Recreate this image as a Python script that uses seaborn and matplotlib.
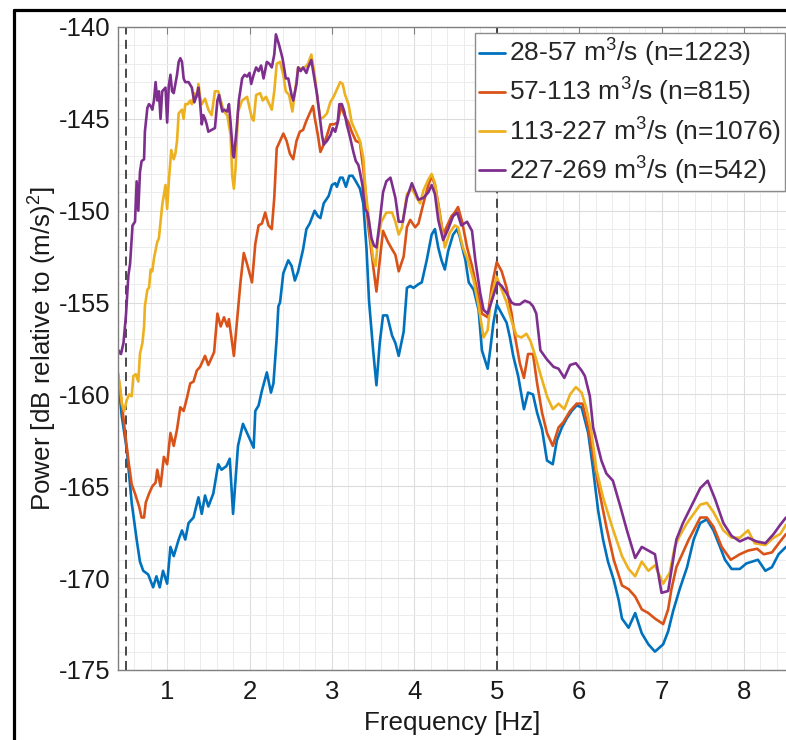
import matplotlib
matplotlib.use("Agg")
import matplotlib.pyplot as plt
import pandas as pd
import seaborn as sns
from matplotlib.lines import Line2D
from matplotlib.ticker import MultipleLocator

# Flow-rate classes and their colours
band_labels = [
    r"28-57 m$^{3}$/s (n=1223)",
    r"57-113 m$^{3}$/s (n=815)",
    r"113-227 m$^{3}$/s (n=1076)",
    r"227-269 m$^{3}$/s (n=542)",
]
band_colors = ["#0072BD", "#D95319", "#EDB120", "#7E2F8E"]

# 28-57 m3/s
freq_low = [0.40, 0.45, 0.51, 0.57, 0.63, 0.67, 0.71, 0.77, 0.83, 0.87, 0.91, 0.95, 1.00, 1.04, 1.08,
            1.14, 1.18, 1.22, 1.26, 1.32, 1.38, 1.42, 1.46, 1.50, 1.56, 1.62, 1.66, 1.72, 1.76, 1.80,
            1.86, 1.92, 1.99, 2.05, 2.07, 2.11, 2.15, 2.21, 2.26, 2.29, 2.33, 2.35, 2.37, 2.41, 2.47,
            2.51, 2.55, 2.59, 2.65, 2.69, 2.73, 2.79, 2.83, 2.86, 2.90, 2.96, 3.00, 3.04, 3.06, 3.10,
            3.13, 3.17, 3.21, 3.25, 3.29, 3.34, 3.38, 3.42, 3.45, 3.50, 3.54, 3.58, 3.62, 3.67, 3.73,
            3.77, 3.81, 3.87, 3.91, 3.95, 3.99, 4.05, 4.09, 4.15, 4.21, 4.25, 4.29, 4.33, 4.37, 4.41,
            4.47, 4.52, 4.55, 4.62, 4.66, 4.72, 4.78, 4.82, 4.89, 4.92, 4.96, 5.00, 5.06, 5.12, 5.16,
            5.20, 5.26, 5.33, 5.38, 5.44, 5.49, 5.55, 5.61, 5.68, 5.73, 5.79, 5.85, 5.91, 5.97, 6.03,
            6.11, 6.17, 6.23, 6.29, 6.35, 6.42, 6.48, 6.52, 6.60, 6.68, 6.76, 6.84, 6.92, 7.02, 7.08,
            7.14, 7.22, 7.31, 7.39, 7.47, 7.55, 7.63, 7.71, 7.77, 7.85, 7.95, 8.03, 8.17, 8.26, 8.34,
            8.42, 8.51]
power_low = [-159.0, -161.2, -163.0, -165.9, -167.9, -169.1, -169.6, -169.8, -170.5, -169.9, -170.5,
             -169.6, -170.3, -168.3, -168.8, -167.9, -167.4, -167.9, -167.0, -166.7, -165.6, -166.5,
             -165.5, -166.1, -165.4, -163.8, -164.1, -163.9, -163.5, -166.5, -162.8, -161.6, -162.3,
             -162.9, -160.9, -160.6, -159.8, -158.8, -159.9, -159.4, -156.9, -155.2, -155.0, -153.4,
             -152.7, -153.0, -153.8, -153.3, -152.1, -151.0, -150.7, -150.0, -150.3, -150.4, -149.6,
             -149.2, -148.6, -148.5, -148.7, -148.2, -148.2, -148.7, -148.1, -148.1, -148.4, -148.8,
             -149.6, -152.1, -154.9, -157.6, -159.5, -157.2, -155.7, -155.7, -156.8, -157.2, -157.9,
             -156.6, -154.2, -154.1, -154.2, -154.0, -153.9, -152.7, -151.3, -151.0, -152.0, -152.7,
             -153.2, -152.2, -151.3, -151.0, -151.4, -152.7, -153.9, -154.3, -155.4, -157.6, -158.6,
             -157.6, -156.1, -155.1, -155.6, -156.1, -156.9, -157.9, -159.0, -160.8, -159.9, -160.0,
             -161.0, -161.9, -163.6, -163.8, -162.5, -161.8, -161.3, -160.9, -160.6, -160.7, -162.1,
             -164.1, -166.3, -167.9, -169.1, -170.1, -171.2, -172.2, -172.7, -171.9, -173.0, -173.6,
             -174.0, -173.6, -172.9, -171.8, -170.6, -169.4, -167.9, -167.0, -166.8, -167.4, -168.3,
             -169.0, -169.5, -169.5, -169.2, -169.0, -169.6, -169.4, -168.7, -168.3]

# 57-113 m3/s
freq_mid = [0.40, 0.45, 0.49, 0.53, 0.57, 0.61, 0.66, 0.69, 0.72, 0.74, 0.78, 0.82, 0.86, 0.88, 0.92,
            0.96, 1.00, 1.04, 1.08, 1.12, 1.16, 1.20, 1.24, 1.28, 1.32, 1.36, 1.40, 1.46, 1.50, 1.57,
            1.61, 1.65, 1.69, 1.73, 1.75, 1.81, 1.85, 1.89, 1.93, 1.97, 2.03, 2.07, 2.11, 2.15, 2.19,
            2.23, 2.27, 2.30, 2.33, 2.37, 2.41, 2.45, 2.49, 2.53, 2.57, 2.61, 2.65, 2.69, 2.73, 2.77,
            2.79, 2.83, 2.86, 2.90, 2.94, 2.98, 3.02, 3.07, 3.11, 3.15, 3.20, 3.24, 3.29, 3.34, 3.38,
            3.41, 3.44, 3.47, 3.50, 3.54, 3.58, 3.62, 3.68, 3.73, 3.77, 3.81, 3.87, 3.91, 3.95, 4.01,
            4.05, 4.11, 4.17, 4.21, 4.25, 4.29, 4.35, 4.39, 4.45, 4.49, 4.53, 4.58, 4.64, 4.70, 4.76,
            4.82, 4.89, 4.94, 5.00, 5.06, 5.12, 5.18, 5.22, 5.28, 5.33, 5.38, 5.44, 5.49, 5.55, 5.61,
            5.68, 5.75, 5.81, 5.89, 5.97, 6.04, 6.11, 6.19, 6.25, 6.33, 6.42, 6.52, 6.60, 6.68, 6.76,
            6.84, 6.92, 7.02, 7.08, 7.12, 7.18, 7.26, 7.33, 7.39, 7.47, 7.55, 7.63, 7.73, 7.84, 7.95,
            8.05, 8.16, 8.24, 8.34, 8.44, 8.51]
power_mid = [-158.8, -160.5, -162.1, -163.6, -164.9, -165.4, -166.1, -166.7, -166.7, -165.9, -165.4,
             -165.0, -164.8, -164.1, -165.0, -163.4, -163.8, -162.1, -162.8, -161.9, -160.7, -160.9,
             -160.2, -159.4, -159.3, -158.7, -158.5, -157.9, -158.4, -157.7, -155.6, -156.3, -155.8,
             -156.3, -155.9, -157.9, -155.9, -153.9, -152.3, -152.9, -153.9, -151.8, -150.8, -150.7,
             -150.1, -150.8, -151.0, -149.3, -146.6, -146.2, -145.8, -146.2, -146.9, -147.2, -146.2,
             -145.7, -145.6, -145.1, -144.7, -144.3, -144.9, -145.9, -146.8, -146.4, -145.9, -145.3,
             -145.3, -145.2, -144.3, -144.8, -145.2, -145.7, -146.2, -146.3, -147.7, -149.1, -150.8,
             -151.9, -153.0, -154.4, -152.7, -151.1, -151.7, -152.1, -152.4, -153.3, -152.5, -150.9,
             -150.5, -150.9, -150.7, -149.6, -148.6, -148.1, -148.6, -149.6, -151.3, -150.9, -150.3,
             -150.1, -149.8, -150.6, -152.0, -153.0, -154.3, -155.6, -155.8, -154.1, -152.8, -153.3,
             -154.2, -155.6, -156.8, -158.3, -159.1, -157.8, -157.8, -159.4, -161.0, -162.1, -162.8,
             -161.8, -161.5, -160.9, -160.5, -160.5, -161.8, -163.9, -165.4, -167.2, -169.0, -170.4,
             -170.6, -171.0, -171.7, -171.9, -172.2, -172.5, -171.7, -170.6, -169.4, -168.6, -167.9,
             -167.4, -166.7, -166.7, -167.2, -168.3, -169.0, -168.7, -168.5, -168.4, -168.7, -168.6,
             -168.0, -167.6]

# 113-227 m3/s
freq_high = [0.40, 0.43, 0.45, 0.48, 0.51, 0.54, 0.57, 0.59, 0.62, 0.65, 0.67, 0.70, 0.72, 0.73, 0.76,
             0.78, 0.80, 0.82, 0.84, 0.88, 0.90, 0.94, 0.98, 1.00, 1.02, 1.05, 1.08, 1.10, 1.12, 1.14,
             1.18, 1.20, 1.22, 1.25, 1.28, 1.30, 1.33, 1.36, 1.38, 1.40, 1.42, 1.46, 1.50, 1.54, 1.58,
             1.62, 1.65, 1.69, 1.73, 1.77, 1.79, 1.81, 1.83, 1.86, 1.91, 1.97, 2.03, 2.05, 2.08, 2.13,
             2.16, 2.20, 2.23, 2.27, 2.30, 2.33, 2.37, 2.41, 2.44, 2.48, 2.52, 2.59, 2.63, 2.67, 2.71,
             2.75, 2.79, 2.83, 2.86, 2.90, 2.94, 2.98, 3.02, 3.07, 3.10, 3.13, 3.16, 3.20, 3.24, 3.29,
             3.34, 3.38, 3.41, 3.44, 3.47, 3.50, 3.53, 3.56, 3.60, 3.66, 3.73, 3.77, 3.81, 3.85, 3.91,
             3.97, 4.03, 4.07, 4.11, 4.17, 4.21, 4.25, 4.31, 4.37, 4.43, 4.49, 4.53, 4.59, 4.65, 4.72,
             4.78, 4.84, 4.89, 4.93, 5.00, 5.06, 5.12, 5.18, 5.24, 5.30, 5.36, 5.41, 5.46, 5.53, 5.61,
             5.68, 5.75, 5.82, 5.89, 5.96, 6.03, 6.09, 6.15, 6.21, 6.29, 6.40, 6.52, 6.60, 6.68, 6.76,
             6.84, 6.92, 7.02, 7.10, 7.16, 7.22, 7.31, 7.39, 7.47, 7.55, 7.63, 7.75, 7.85, 7.95, 8.05,
             8.13, 8.26, 8.36, 8.44, 8.51]
power_high = [-158.8, -159.6, -160.5, -160.9, -160.3, -160.0, -160.1, -159.0, -158.9, -159.3, -157.8,
              -157.2, -156.3, -155.2, -154.3, -154.2, -153.2, -153.3, -152.6, -151.7, -151.5, -149.7,
              -148.6, -149.9, -148.4, -146.7, -147.2, -146.9, -146.2, -144.7, -144.5, -145.0, -144.2,
              -144.2, -144.0, -144.2, -143.6, -143.8, -143.1, -143.8, -144.2, -143.9, -144.5, -144.8,
              -143.5, -143.5, -144.0, -144.6, -144.8, -145.9, -148.1, -148.8, -147.7, -144.6, -144.0,
              -143.8, -145.0, -145.1, -143.7, -143.6, -144.0, -143.8, -144.1, -144.5, -143.5, -142.0,
              -141.9, -142.6, -143.5, -143.7, -144.6, -142.2, -142.3, -142.2, -142.0, -141.5, -142.6,
              -144.1, -145.0, -144.9, -144.7, -144.1, -143.8, -143.3, -143.0, -143.1, -143.7, -144.2,
              -145.2, -145.7, -146.2, -147.1, -149.0, -150.1, -151.5, -152.6, -153.0, -151.5, -150.6,
              -150.1, -150.1, -150.6, -151.3, -150.9, -149.1, -148.8, -149.3, -149.6, -148.9, -148.3,
              -148.0, -148.5, -150.3, -152.0, -151.2, -150.8, -150.9, -152.0, -152.7, -153.8, -155.2,
              -156.9, -156.5, -154.7, -153.6, -154.3, -155.0, -156.0, -156.8, -156.9, -156.7, -157.1,
              -157.8, -158.9, -160.1, -160.8, -160.5, -160.8, -160.0, -159.6, -159.9, -160.8, -162.1,
              -164.1, -165.6, -167.2, -168.8, -169.5, -169.9, -169.1, -169.6, -169.3, -170.3, -169.7,
              -168.3, -167.7, -167.0, -166.5, -166.0, -165.9, -166.4, -167.4, -167.8, -167.8, -167.4,
              -168.1, -168.2, -167.8, -167.6, -167.1]

# 227-269 m3/s
freq_peak = [0.40, 0.41, 0.44, 0.47, 0.50, 0.53, 0.55, 0.58, 0.61, 0.63, 0.65, 0.67, 0.69, 0.72, 0.73,
             0.76, 0.78, 0.80, 0.82, 0.84, 0.86, 0.88, 0.90, 0.92, 0.94, 0.96, 0.98, 1.00, 1.02, 1.04,
             1.06, 1.08, 1.12, 1.14, 1.16, 1.18, 1.20, 1.22, 1.26, 1.30, 1.33, 1.36, 1.38, 1.40, 1.42,
             1.44, 1.46, 1.48, 1.50, 1.54, 1.58, 1.61, 1.63, 1.65, 1.67, 1.69, 1.73, 1.75, 1.77, 1.80,
             1.81, 1.84, 1.87, 1.91, 1.94, 1.97, 2.00, 2.02, 2.05, 2.08, 2.11, 2.14, 2.17, 2.21, 2.24,
             2.27, 2.30, 2.32, 2.36, 2.40, 2.44, 2.47, 2.51, 2.53, 2.57, 2.59, 2.62, 2.65, 2.69, 2.71,
             2.75, 2.78, 2.82, 2.85, 2.88, 2.90, 2.94, 2.98, 3.01, 3.04, 3.07, 3.09, 3.12, 3.15, 3.18,
             3.22, 3.26, 3.29, 3.32, 3.34, 3.37, 3.40, 3.43, 3.45, 3.48, 3.51, 3.54, 3.58, 3.62, 3.66,
             3.71, 3.77, 3.81, 3.86, 3.91, 3.97, 4.05, 4.11, 4.17, 4.21, 4.25, 4.29, 4.35, 4.41, 4.47,
             4.52, 4.57, 4.64, 4.70, 4.74, 4.80, 4.84, 4.89, 4.96, 5.01, 5.06, 5.12, 5.18, 5.22, 5.28,
             5.34, 5.40, 5.44, 5.48, 5.53, 5.61, 5.69, 5.75, 5.82, 5.89, 5.96, 6.03, 6.07, 6.13, 6.17,
             6.27, 6.33, 6.41, 6.50, 6.58, 6.68, 6.76, 6.84, 6.92, 7.00, 7.08, 7.18, 7.26, 7.37, 7.47,
             7.56, 7.65, 7.75, 7.85, 7.95, 8.05, 8.15, 8.26, 8.36, 8.44, 8.51]
power_peak = [-157.9, -157.6, -157.8, -157.2, -155.7, -153.5, -152.9, -150.8, -150.6, -148.4, -150.0,
              -147.9, -147.3, -147.2, -145.7, -144.4, -144.2, -144.3, -144.5, -144.0, -143.0, -144.0,
              -143.5, -145.0, -143.5, -143.4, -143.3, -145.2, -143.2, -142.6, -143.5, -143.6, -142.6,
              -141.9, -141.7, -141.9, -142.8, -143.0, -143.0, -143.3, -144.1, -143.7, -143.3, -144.1,
              -145.3, -144.8, -145.0, -145.3, -145.7, -145.6, -145.5, -144.0, -143.7, -144.2, -144.6,
              -144.5, -144.6, -144.2, -145.2, -147.0, -147.1, -145.7, -144.0, -142.8, -142.6, -142.7,
              -142.5, -143.1, -142.6, -142.2, -142.4, -142.1, -142.8, -141.9, -142.0, -142.2, -141.5,
              -140.4, -141.0, -141.7, -142.8, -142.8, -143.7, -144.0, -143.1, -142.2, -142.4, -142.2,
              -142.5, -142.2, -141.8, -142.6, -143.7, -144.8, -145.9, -146.4, -146.2, -145.9, -145.5,
              -145.7, -145.2, -144.2, -144.2, -144.6, -145.3, -146.0, -146.8, -147.3, -147.5, -147.9,
              -148.6, -149.9, -150.1, -150.6, -151.5, -151.9, -152.0, -150.6, -149.0, -148.4, -148.2,
              -149.3, -150.6, -150.6, -149.3, -148.5, -149.4, -149.3, -149.0, -148.6, -149.1, -150.5,
              -151.6, -151.0, -150.3, -150.1, -150.8, -150.6, -151.1, -152.7, -154.5, -155.4, -155.6,
              -154.6, -153.9, -154.1, -154.5, -155.0, -155.1, -155.1, -154.9, -155.0, -155.2, -155.6,
              -157.6, -158.1, -158.5, -158.6, -159.1, -158.4, -158.3, -158.7, -159.0, -160.1, -161.8,
              -163.6, -164.3, -164.7, -166.1, -167.4, -168.9, -168.3, -168.5, -168.7, -170.8, -170.7,
              -167.9, -167.0, -166.0, -165.1, -164.7, -165.7, -167.0, -167.7, -168.0, -167.8, -168.0,
              -168.1, -167.6, -167.1, -166.7]

# Band limits marked with dashed lines
band_edges = [0.5, 5.0]
y_ticks = [-175, -170, -165, -160, -155, -150, -145, -140]
x_ticks = [1, 2, 3, 4, 5, 6, 7, 8]

frames = []
for label, f, p in zip(band_labels,
                       [freq_low, freq_mid, freq_high, freq_peak],
                       [power_low, power_mid, power_high, power_peak]):
    frames.append(pd.DataFrame({"freq": f, "power": p, "band": label}))
df = pd.concat(frames, ignore_index=True)

sns.set_style("white")
plt.rcParams["font.family"] = ["Liberation Sans", "DejaVu Sans"]
plt.rcParams["mathtext.default"] = "regular"
plt.rcParams["axes.unicode_minus"] = False

W, H = 786, 740
fig = plt.figure(figsize=(W / 100, H / 100), dpi=100)
ax_left, ax_right, ax_top, ax_bottom = 117.7, 787.0, 27.0, 670.0
ax = fig.add_axes([ax_left / W, 1 - ax_bottom / H, (ax_right - ax_left) / W, (ax_bottom - ax_top) / H])

px_per_hz = 82.4
ax.set_xlim(0.4, 0.4 + (ax_right - ax_left) / px_per_hz)
ax.set_ylim(-175, -140)

ax.set_axisbelow(True)
ax.xaxis.set_minor_locator(MultipleLocator(0.2))
ax.yaxis.set_minor_locator(MultipleLocator(1))
ax.grid(which="major", color="#dcdcdc", linewidth=0.8)
ax.grid(which="minor", color="#ececec", linewidth=0.7)

for xe in band_edges:
    ax.axvline(xe, color="#3a3a3a", linewidth=1.3, linestyle=(0, (5, 3)), zorder=1.5)

sns.lineplot(data=df, x="freq", y="power", hue="band", hue_order=band_labels,
             palette=dict(zip(band_labels, band_colors)), estimator=None, sort=False,
             linewidth=1.9, ax=ax, legend=True)

ax.set_xticks(x_ticks)
ax.set_yticks(y_ticks)
ax.set_xticklabels([str(v) for v in x_ticks])
ax.set_yticklabels([str(v) for v in y_ticks])
ax.tick_params(which="major", direction="in", length=5, width=0.8, color="#7f7f7f",
               labelsize=18.5, labelcolor="#1a1a1a", top=True, right=False)
ax.tick_params(axis="x", pad=7.5)
ax.tick_params(axis="y", pad=5.5)
ax.tick_params(which="minor", length=0)
for side in ["left", "bottom", "top"]:
    ax.spines[side].set_color("#7f7f7f")
    ax.spines[side].set_linewidth(1.0)
ax.spines["right"].set_visible(False)

ax.set_xlabel("Frequency [Hz]", fontsize=18.7, color="#1a1a1a")
ax.set_ylabel(r"Power [dB relative to (m/s)$^{2}$]", fontsize=18.7, color="#1a1a1a")
ax.yaxis.set_label_coords((59 - ax_left) / (ax_right - ax_left), 0.5)
ax.xaxis.set_label_coords((452 - ax_left) / (ax_right - ax_left), -(711 - ax_bottom) / (ax_bottom - ax_top))

handles, labels = ax.get_legend_handles_labels()
leg = ax.legend(handles, labels, loc="upper right", bbox_to_anchor=(785 / W, 1 - 33 / H),
                bbox_transform=fig.transFigure, fontsize=19, handlelength=1.0, handletextpad=0.15,
                borderpad=0.15, labelspacing=0.27, borderaxespad=0, frameon=True, fancybox=False,
                framealpha=1, facecolor="white", edgecolor="#8c8c8c")
leg.get_frame().set_linewidth(1.0)
for line in leg.get_lines():
    line.set_linewidth(2.0)

# Black frame around the figure panel
yt = 1 - 10.3 / H
xl = 13.5 / W
fig.add_artist(Line2D([xl, xl], [0, yt], color="black", linewidth=2.3, transform=fig.transFigure))
fig.add_artist(Line2D([xl, 1], [yt, yt], color="black", linewidth=2.3, transform=fig.transFigure))

fig.savefig("out.png", dpi=100)
